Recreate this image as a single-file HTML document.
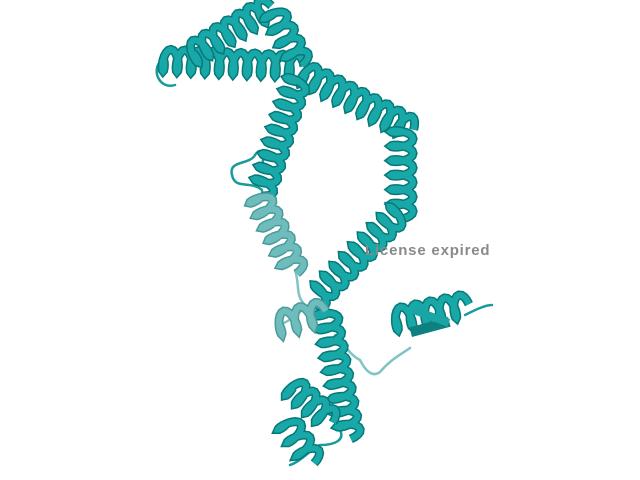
<!DOCTYPE html>
<html><head><meta charset="utf-8"><style>
html,body{margin:0;padding:0;background:#fff;width:640px;height:480px;overflow:hidden}
svg{display:block}
</style></head><body>
<svg id="mol" width="640" height="480" viewBox="0 0 640 480" xmlns="http://www.w3.org/2000/svg">
<g id="coils" fill="none" stroke="#1a9a9a" stroke-width="2.5" stroke-linecap="round">
<path d="M262,190 C250,180 235,190 232,175 C228,160 250,165 255,155 C262,145 265,155 262,165" />
<path d="M295,270 C300,285 295,295 305,305 C300,315 290,320 280,325" stroke="#7ec4c4"/>
<path d="M335,335 C345,345 350,355 360,360 C365,370 372,378 380,372 C390,360 400,355 410,348" stroke="#7ec4c4"/>
<path d="M340,430 C345,440 335,445 320,445 C310,450 300,462 290,465" />
<path d="M162,60 C150,70 160,90 175,85" />
<path d="M465,315 C475,310 485,305 492,305" />
</g>
<g id="helices"></g>
<rect x="410" y="322" width="40" height="10" fill="#0e8080" transform="rotate(-15 430 327)"/>
<rect x="412" y="312" width="38" height="8" fill="#1aa5a5" transform="rotate(20 430 316)"/>
<text x="365" y="255" font-family="Liberation Sans, sans-serif" font-weight="bold" font-size="15" letter-spacing="0.8" fill="#8a8a8a">License expired</text>
</svg>
<script>
const helixStarts = [[160,60],[190,55],[272,10],[302,72],[402,128],[400,212],[298,78],[258,195],[326,310],[290,385],[285,420],[392,320],[275,325]];
const helixEnds   = [[300,66],[268,8],[300,62],[410,128],[402,215],[315,300],[262,192],[295,270],[350,435],[330,420],[312,460],[465,305],[322,312]];
const helixShade  = [0,0,0,0,0,0,0,1,0,0,0,0,1];
const g = document.getElementById('helices');
const NS = 'http://www.w3.org/2000/svg';
for (let i = 0; i < helixStarts.length; i++) {
  const [x1,y1] = helixStarts[i], [x2,y2] = helixEnds[i];
  const dx = x2-x1, dy = y2-y1, L = Math.hypot(dx,dy);
  const ux = dx/L, uy = dy/L, px = -uy, py = ux;
  const turns = Math.max(2, Math.round(L/14));
  const light = helixShade[i] ? '#6fbcbc' : '#18a8a8';
  const dark = helixShade[i] ? '#4a9a9a' : '#067878';
  let d = '';
  const N = turns*16;
  for (let k = 0; k <= N; k++) {
    const t = k/N, a = t*turns*2*Math.PI;
    const w = 11*Math.sin(a), s = 4*Math.cos(a);
    const x = x1+dx*t+px*w+ux*s, y = y1+dy*t+py*w+uy*s;
    d += (k? 'L':'M') + x.toFixed(1) + ',' + y.toFixed(1);
  }
  const back = document.createElementNS(NS,'path');
  
  
  back.setAttribute('d', d); back.setAttribute('fill','none');
  back.setAttribute('stroke', dark); back.setAttribute('stroke-width','9');
  g.appendChild(back);
  const front = document.createElementNS(NS,'path');
  
  
  front.setAttribute('d', d); front.setAttribute('fill','none');
  front.setAttribute('stroke', light); front.setAttribute('stroke-width','6');
  g.appendChild(front);
}
</script>
</body></html>
